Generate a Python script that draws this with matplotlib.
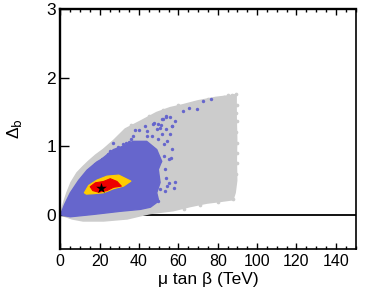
import matplotlib
matplotlib.use("Agg")
import matplotlib.pyplot as plt
from matplotlib.ticker import MultipleLocator

# outlines of the point clouds
grey_x = [0, 0.8, 2, 3.4, 5.5, 8.5, 11.5, 14.4, 18, 21.8, 27, 33, 40.5, 49, 55.8, 62, 70, 79, 85, 89.3,
          89.3, 89.6, 89.4, 89.6, 88.8, 87.7, 80, 74.4, 66, 57.4, 49, 45.8, 34, 22, 11.6, 6, 2]
grey_y = [0, 0.08, 0.2, 0.32, 0.47, 0.61, 0.7, 0.78, 0.87, 0.95, 1.08, 1.25, 1.36, 1.49, 1.56, 1.6, 1.66, 1.71, 1.73, 1.75,
          1.45, 1.1, 0.8, 0.5, 0.32, 0.22, 0.19, 0.17, 0.12, 0.06, 0.03, 0.02, -0.06, -0.09, -0.09, -0.06, -0.02]
blue_x = [0, 0.8, 2.2, 5.1, 9.3, 13.6, 18.6, 21, 27, 32, 37, 43.9, 49, 51.5, 49.8, 50.7, 49, 50, 45.8, 40.7, 30.5, 17, 5.1]
blue_y = [0, 0.05, 0.15, 0.32, 0.5, 0.65, 0.77, 0.81, 0.95, 1.0, 1.07, 1.07, 0.95, 0.78, 0.66, 0.47, 0.32, 0.2, 0.11, 0.078, 0.05, 0.005, -0.03]
yellow_x = [12.2, 14.4, 18.6, 23.7, 29.7, 35.9, 32.2, 27.1, 22, 16.9, 13.2]
yellow_y = [0.32, 0.427, 0.505, 0.563, 0.578, 0.49, 0.417, 0.379, 0.32, 0.306, 0.3]
red_x = [15.2, 17.8, 22, 25.4, 28.8, 31, 27.1, 23.7, 19.5, 16.5]
red_y = [0.408, 0.465, 0.485, 0.525, 0.485, 0.417, 0.4, 0.352, 0.328, 0.352]
best_x = [20.8]
best_y = [0.393]

# stray blue points around the main cloud
blue_dots_x = [76.6, 72.4, 69.7, 65.5, 62.2, 58.3, 56.8, 53.8, 51.6, 47.3, 49.4, 43.1, 38, 40,
               55.8, 53.7, 52, 47.6, 51, 43.9, 46.5, 49, 50.7, 53.7, 51.5, 57, 55.8, 43.9, 49.8, 54.1, 52.7,
               37.1, 35.8, 33.4, 27, 29.5, 25.3, 56.6, 55.4, 22.7,
               56.1, 52.7, 50.7, 53.2, 53.7, 55.4, 58.3, 57.8, 54, 53.2, 50.7, 49.8, 47.3,
               9.7, 11.7, 16, 17.7, 21, 24.4, 32, 35.1]
blue_dots_y = [1.69, 1.66, 1.544, 1.554, 1.51, 1.365, 1.29, 1.43, 1.4, 1.33, 1.33, 1.29, 1.23, 1.24,
               1.428, 1.438, 1.399, 1.331, 1.302, 1.219, 1.146, 1.244, 1.268, 1.253, 1.171, 1.292, 1.171, 1.146, 1.098, 1.074, 1.025,
               1.146, 1.098, 1.049, 1.049, 0.991, 0.928, 0.952, 0.816, 0.816,
               0.83, 0.854, 0.78, 0.66, 0.538, 0.465, 0.475, 0.383, 0.416, 0.344, 0.368, 0.198, 0.27,
               0.466, 0.54, 0.636, 0.733, 0.816, 0.88, 1.025, 1.06]
# stray grey points on the rim of the grey cloud
grey_dots_x = [89.4, 85.4, 81.8, 87, 83, 75, 68, 60, 52, 45, 36,
               89.6, 89.4, 89.8, 89.5, 89.9, 89.6, 89.9, 89.5, 87.7, 86.7, 80, 71, 63]
grey_dots_y = [1.76, 1.75, 1.7, 1.74, 1.72, 1.69, 1.63, 1.6, 1.53, 1.44, 1.31,
               1.6, 1.48, 1.36, 1.2, 1.05, 0.9, 0.76, 0.6, 0.23, 0.32, 0.19, 0.14, 0.09]

xticks = [0, 20, 40, 60, 80, 100, 120, 140]
yticks = [0, 1, 2, 3]

grey = "#cccccc"
blue = "#6666cc"
yellow = "#ffcc00"
red = "#ee0000"

plt.rcParams["font.family"] = ["Liberation Sans", "DejaVu Sans"]

fig = plt.figure(figsize=(3.74, 2.98), dpi=100)
ax = fig.add_axes([60.3 / 374, 1 - 249 / 298, 295.2 / 374, 240 / 298])

ax.fill(grey_x, grey_y, color=grey, lw=1.2, joinstyle="round", zorder=1)
ax.scatter(grey_dots_x, grey_dots_y, s=7, color=grey, lw=0, zorder=1)
ax.axhline(0, color="black", lw=1.3, zorder=0.5)
ax.fill(blue_x, blue_y, color=blue, lw=1, joinstyle="round", zorder=2)
ax.scatter(blue_dots_x, blue_dots_y, s=6, color=blue, lw=0, zorder=2)
ax.fill(yellow_x, yellow_y, color=yellow, lw=0.8, joinstyle="round", zorder=3)
ax.fill(red_x, red_y, color=red, lw=0.8, joinstyle="round", zorder=4)
ax.scatter(best_x, best_y, marker="*", s=65, color="black", lw=0, zorder=5)

ax.set_xlim(0, 150)
ax.set_ylim(-0.5, 3)
ax.set_xticks(xticks)
ax.set_yticks(yticks)
ax.xaxis.set_minor_locator(MultipleLocator(5))
ax.tick_params(axis="x", which="major", direction="in", top=True, length=4.5, width=1, labelsize=11.5, pad=3.5)
ax.tick_params(axis="x", which="minor", direction="in", top=True, length=2.2, width=1)
ax.tick_params(axis="y", which="major", direction="in", length=6.5, width=1, labelsize=12.5, pad=3)

ax.spines["left"].set_linewidth(1.7)
ax.spines["top"].set_linewidth(1.7)
ax.spines["right"].set_linewidth(1.2)
ax.spines["bottom"].set_linewidth(1.2)

ax.set_xlabel("\u03bc tan \u03b2 (TeV)", fontsize=12.5, labelpad=2)
ax.set_ylabel("\u0394$_{\\mathrm{b}}$", fontsize=12.5, labelpad=16)

fig.savefig("out.png", dpi=100)
